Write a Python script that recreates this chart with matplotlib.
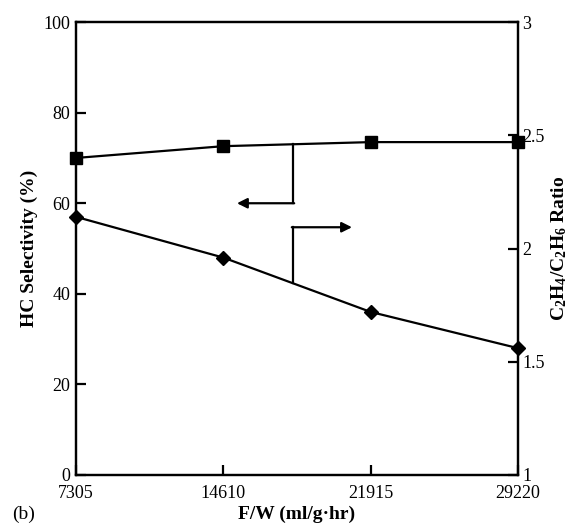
import matplotlib
matplotlib.use("Agg")
import matplotlib.pyplot as plt

# data
fw = [7305, 14610, 21915, 29220]
hc_sel = [70.0, 72.6, 73.5, 73.5]          # left axis (%)
ratio = [2.14, 1.96, 1.72, 1.56]            # right axis C2H4/C2H6

# bracket arrows (data coords on left axis)
arrow_x = 18064
left_arrow = dict(top=73.0, y=60.0, tip=15287)
right_arrow = dict(bottom=42.3, y=54.7, tip=20989)

plt.rcParams['font.family'] = ['Liberation Serif', 'DejaVu Serif']
plt.rcParams['mathtext.fontset'] = 'custom'
plt.rcParams['mathtext.rm'] = 'Liberation Serif:bold'
plt.rcParams['mathtext.it'] = 'Liberation Serif:bold'
plt.rcParams['mathtext.bf'] = 'Liberation Serif:bold'

fig = plt.figure(figsize=(5.73, 5.26), dpi=100)
ax = fig.add_axes([0.1326, 0.097, 0.7714, 0.861])
ax2 = ax.twinx()

ax.plot(fw, hc_sel, color='black', lw=1.6, marker='s', ms=9, clip_on=False, zorder=5)
ax2.plot(fw, ratio, color='black', lw=1.6, marker='D', ms=7.5, clip_on=False, zorder=5)

ax.set_xlim(7305, 29220)
ax.set_ylim(0, 100)
ax2.set_ylim(1, 3)
ax.set_xticks(fw)
ax.set_xticklabels([str(v) for v in fw])
ax.set_yticks([0, 20, 40, 60, 80, 100])
ax2.set_yticks([1, 1.5, 2, 2.5, 3])
ax2.set_yticklabels(['1', '1.5', '2', '2.5', '3'])

for a in (ax, ax2):
    for s in a.spines.values():
        s.set_linewidth(1.6)
    a.tick_params(direction='in', length=7, width=1.6, labelsize=13, pad=3)
ax.tick_params(axis='y', pad=4)
ax.tick_params(axis='x', pad=7)

# bracket arrows
ax.plot([arrow_x, arrow_x], [left_arrow['top'], left_arrow['y']], color='black', lw=1.6)
ax.annotate('', xy=(left_arrow['tip'], left_arrow['y']), xytext=(arrow_x + 60, left_arrow['y']),
            arrowprops=dict(arrowstyle='-|>', color='black', lw=1.6, mutation_scale=15,
                            shrinkA=0, shrinkB=0))
ax.plot([arrow_x, arrow_x], [right_arrow['bottom'], right_arrow['y']], color='black', lw=1.6)
ax.annotate('', xy=(right_arrow['tip'], right_arrow['y']), xytext=(arrow_x - 60, right_arrow['y']),
            arrowprops=dict(arrowstyle='-|>', color='black', lw=1.6, mutation_scale=15,
                            shrinkA=0, shrinkB=0))

ax.set_ylabel('HC Selectivity (%)', fontsize=14, fontweight='bold', labelpad=4)
ax2.set_ylabel(r'C$_2$H$_4$/C$_2$H$_6$ Ratio', fontsize=14, fontweight='bold', labelpad=3)
fig.text(0.518, 0.006, 'F/W (ml/g·hr)', fontsize=14, fontweight='bold', ha='center', va='bottom')
fig.text(0.022, 0.006, '(b)', fontsize=14, ha='left', va='bottom')

fig.savefig('out.png', dpi=100)
